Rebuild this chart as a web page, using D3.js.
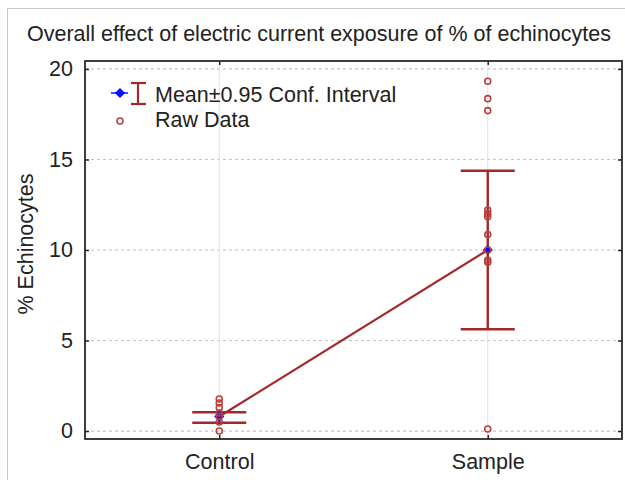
<!DOCTYPE html>
<html>
<head>
<meta charset="utf-8">
<script src="https://cdn.jsdelivr.net/npm/d3@7"></script>
<style>
body{margin:0;background:#fff;}
svg{display:block;font-family:"Liberation Sans",Arial,sans-serif;}
</style>
</head>
<body>
<svg id="chart" width="625" height="480"></svg>
<script>
const title = "Overall effect of electric current exposure of % of echinocytes";
const yLabel = "% Echinocytes";
const categories = ["Control", "Sample"];
const means = [0.8, 10.0];
const ciLow = [0.46, 5.62];
const ciHigh = [1.04, 14.38];
const rawControl = [0.0, 0.5, 0.8, 1.0, 1.3, 1.55, 1.77];
const rawSample = [19.32, 18.36, 17.7, 12.2, 12.0, 11.84, 10.85, 10.0, 9.45, 9.32, 0.11];
const yTicks = [0, 5, 10, 15, 20];
const legendLabels = ["Mean\u00b10.95 Conf. Interval", "Raw Data"];

const svg = d3.select("#chart");
const X0 = 85, X1 = 622, Y0 = 61, Y1 = 439;
const lineColor = "#a3282a", rawColor = "#b5413f", meanColor = "#0010ff";
const FS = 21.5;

const x = d3.scalePoint().domain(categories).range([X0, X1]).padding(0.5);
const y = d3.scaleLinear().domain([-0.44, 20.44]).range([Y1, Y0]);

// outer frame
svg.append("rect").attr("x", 7.5).attr("y", 8.5).attr("width", 700).attr("height", 600)
  .attr("fill", "none").attr("stroke", "#c8c8c8").attr("stroke-width", 1);

// title
svg.append("text").attr("x", 319).attr("y", 41).attr("text-anchor", "middle")
  .attr("font-size", FS).attr("fill", "#222").text(title);

// gridlines
svg.append("g").selectAll("line").data(yTicks).join("line")
  .attr("x1", X0).attr("x2", X1).attr("y1", d => y(d)).attr("y2", d => y(d))
  .attr("stroke", "#c4c4c4").attr("stroke-width", 1.2).attr("stroke-dasharray", "3,3");
svg.append("g").selectAll("line").data(categories).join("line")
  .attr("x1", d => x(d)).attr("x2", d => x(d)).attr("y1", Y0).attr("y2", Y1)
  .attr("stroke", "#e2e2e2").attr("stroke-width", 1);

// axes
const yAxisL = d3.axisLeft(y).tickValues(yTicks).tickSize(-4).tickPadding(12);
const gL = svg.append("g").attr("transform", `translate(${X0},0)`).call(yAxisL);
gL.select(".domain").remove();
gL.selectAll("text").attr("font-size", FS).attr("fill", "#222").attr("font-family", "Liberation Sans, Arial, sans-serif");
gL.selectAll("line").attr("stroke", "#222").attr("stroke-width", 1.5);

const gR = svg.append("g").attr("transform", `translate(${X1},0)`).call(d3.axisRight(y).tickValues(yTicks).tickSize(-4).tickFormat(""));
gR.select(".domain").remove();
gR.selectAll("line").attr("stroke", "#222").attr("stroke-width", 1.5);

const gB = svg.append("g").attr("transform", `translate(0,${Y1})`).call(d3.axisBottom(x).tickSize(-4).tickPadding(15));
gB.select(".domain").remove();
gB.selectAll("text").attr("font-size", FS).attr("fill", "#222").attr("font-family", "Liberation Sans, Arial, sans-serif");
gB.selectAll("line").attr("stroke", "#222").attr("stroke-width", 1.5);

const gT = svg.append("g").attr("transform", `translate(0,${Y0})`).call(d3.axisTop(x).tickSize(-4).tickFormat(""));
gT.select(".domain").remove();
gT.selectAll("line").attr("stroke", "#222").attr("stroke-width", 1.5);

// plot frame
svg.append("rect").attr("x", X0).attr("y", Y0).attr("width", X1 - X0).attr("height", Y1 - Y0)
  .attr("fill", "none").attr("stroke", "#2a2a2a").attr("stroke-width", 1.8);

// y label
svg.append("text").attr("transform", `translate(33,${(Y0 + Y1) / 2 - 6}) rotate(-90)`)
  .attr("text-anchor", "middle").attr("font-size", FS).attr("fill", "#222").text(yLabel);

// mean line
const pts = categories.map((c, i) => [x(c), y(means[i])]);
svg.append("path").attr("d", d3.line()(pts)).attr("fill", "none")
  .attr("stroke", lineColor).attr("stroke-width", 2.2);

// error bars
const capW = 27;
const eb = svg.append("g").attr("stroke", lineColor).attr("stroke-width", 2.4);
categories.forEach((c, i) => {
  eb.append("line").attr("x1", x(c)).attr("x2", x(c)).attr("y1", y(ciLow[i])).attr("y2", y(ciHigh[i]));
  eb.append("line").attr("x1", x(c) - capW).attr("x2", x(c) + capW).attr("y1", y(ciLow[i])).attr("y2", y(ciLow[i]));
  eb.append("line").attr("x1", x(c) - capW).attr("x2", x(c) + capW).attr("y1", y(ciHigh[i])).attr("y2", y(ciHigh[i]));
});

// mean diamonds
const diamond = d3.symbol().type(d3.symbolSquare).size(52);
svg.append("g").selectAll("path").data(categories).join("path")
  .attr("d", diamond)
  .attr("transform", (d, i) => `translate(${x(d)},${y(means[i])}) rotate(45)`)
  .attr("fill", meanColor);

// raw data
const raw = [].concat(rawControl.map(v => [categories[0], v]), rawSample.map(v => [categories[1], v]));
svg.append("g").selectAll("circle").data(raw).join("circle")
  .attr("cx", d => x(d[0])).attr("cy", d => y(d[1])).attr("r", 3)
  .attr("fill", "none").attr("stroke", rawColor).attr("stroke-width", 1.6);

// legend
const lg = svg.append("g");
lg.append("line").attr("x1", 111).attr("x2", 128).attr("y1", 93).attr("y2", 93).attr("stroke", meanColor).attr("stroke-width", 1.5);
lg.append("path").attr("d", diamond).attr("transform", "translate(120,93) rotate(45)").attr("fill", meanColor);
const ig = lg.append("g").attr("stroke", lineColor).attr("stroke-width", 2.2);
ig.append("line").attr("x1", 138).attr("x2", 138).attr("y1", 83).attr("y2", 104);
ig.append("line").attr("x1", 131).attr("x2", 146).attr("y1", 83).attr("y2", 83);
ig.append("line").attr("x1", 131).attr("x2", 146).attr("y1", 104).attr("y2", 104);
lg.append("circle").attr("cx", 120).attr("cy", 121).attr("r", 3).attr("fill", "none").attr("stroke", rawColor).attr("stroke-width", 1.6);
lg.append("text").attr("x", 155).attr("y", 102).attr("font-size", FS).attr("fill", "#222").text(legendLabels[0]);
lg.append("text").attr("x", 155).attr("y", 127).attr("font-size", FS).attr("fill", "#222").text(legendLabels[1]);
</script>
</body>
</html>
